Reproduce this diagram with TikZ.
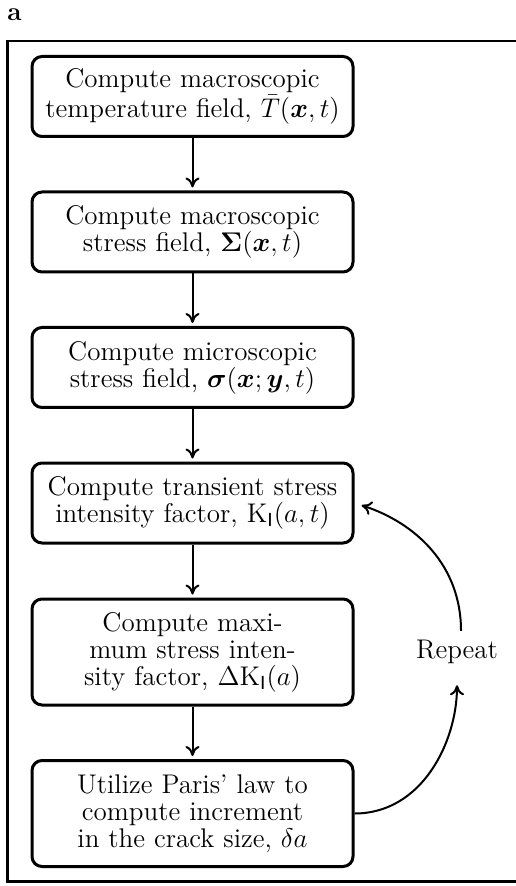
\RequirePackage{fix-cm}
\documentclass[tikz,border=0pt]{standalone}
\usepackage{bm}
\usetikzlibrary{arrows.meta}
\begin{document}
\begin{tikzpicture}[x=0.5pt,y=-0.5pt,
  txt/.style={font=\fontsize{13.5pt}{13.5pt}\selectfont},
  box/.style={txt, draw, line width=1.5pt, rounded corners=5pt, text width=158pt, align=center,
    minimum width=160.5pt, inner xsep=1pt, inner ysep=0pt},
  two/.style={minimum height=40pt},
  three/.style={minimum height=53pt},
  arr/.style={line width=1pt, -{To[length=5pt,width=7pt]}}]
\useasboundingbox (0,0) rectangle (515,886);
\draw[line width=1.1pt] (520,41) -- (7.5,41) -- (7.5,881.5) -- (520,881.5);
\node[anchor=base west, font=\fontsize{13pt}{13pt}\selectfont\bfseries, inner sep=0pt] (lbl) at (7,21) {a};
\node[box,two] (b1) at (192.5,96.5) {Compute macroscopic\\temperature field, $\bar{T}(\bm{x},t)$};
\node[box,two] (b2) at (192.5,232) {Compute macroscopic\\stress field, $\bm{\Sigma}(\bm{x},t)$};
\node[box,two] (b3) at (192.5,367.5) {Compute microscopic\\stress field, $\bm{\sigma}(\bm{x};\bm{y},t)$};
\node[box,two] (b4) at (192.5,503) {Compute transient stress\\intensity factor, $\mathrm{K}_{\mathsf{I}}(a,t)$};
\node[box,three] (b5) at (192.5,652) {Compute maxi-\\mum stress inten-\\sity factor, $\Delta\mathrm{K}_{\mathsf{I}}(a)$};
\node[box,three] (b6) at (192.5,813.5) {Utilize Paris' law to\\compute increment\\in the crack size, $\delta a$};
\node[txt, inner sep=4.5pt] (rep) at (457,652) {Repeat};
\foreach \a/\b in {b1/b2,b2/b3,b3/b4,b4/b5,b5/b6}
  \draw[arr, shorten >=1.5pt] (\a) -- (\b);
\draw[arr, shorten >=6pt] (b6.east) to[out=0,in=-90] (rep.south);
\draw[arr, shorten >=3.75pt] ([xshift=2pt]rep.north) to[out=90,in=-18] (b4.east);
\end{tikzpicture}
\end{document}
